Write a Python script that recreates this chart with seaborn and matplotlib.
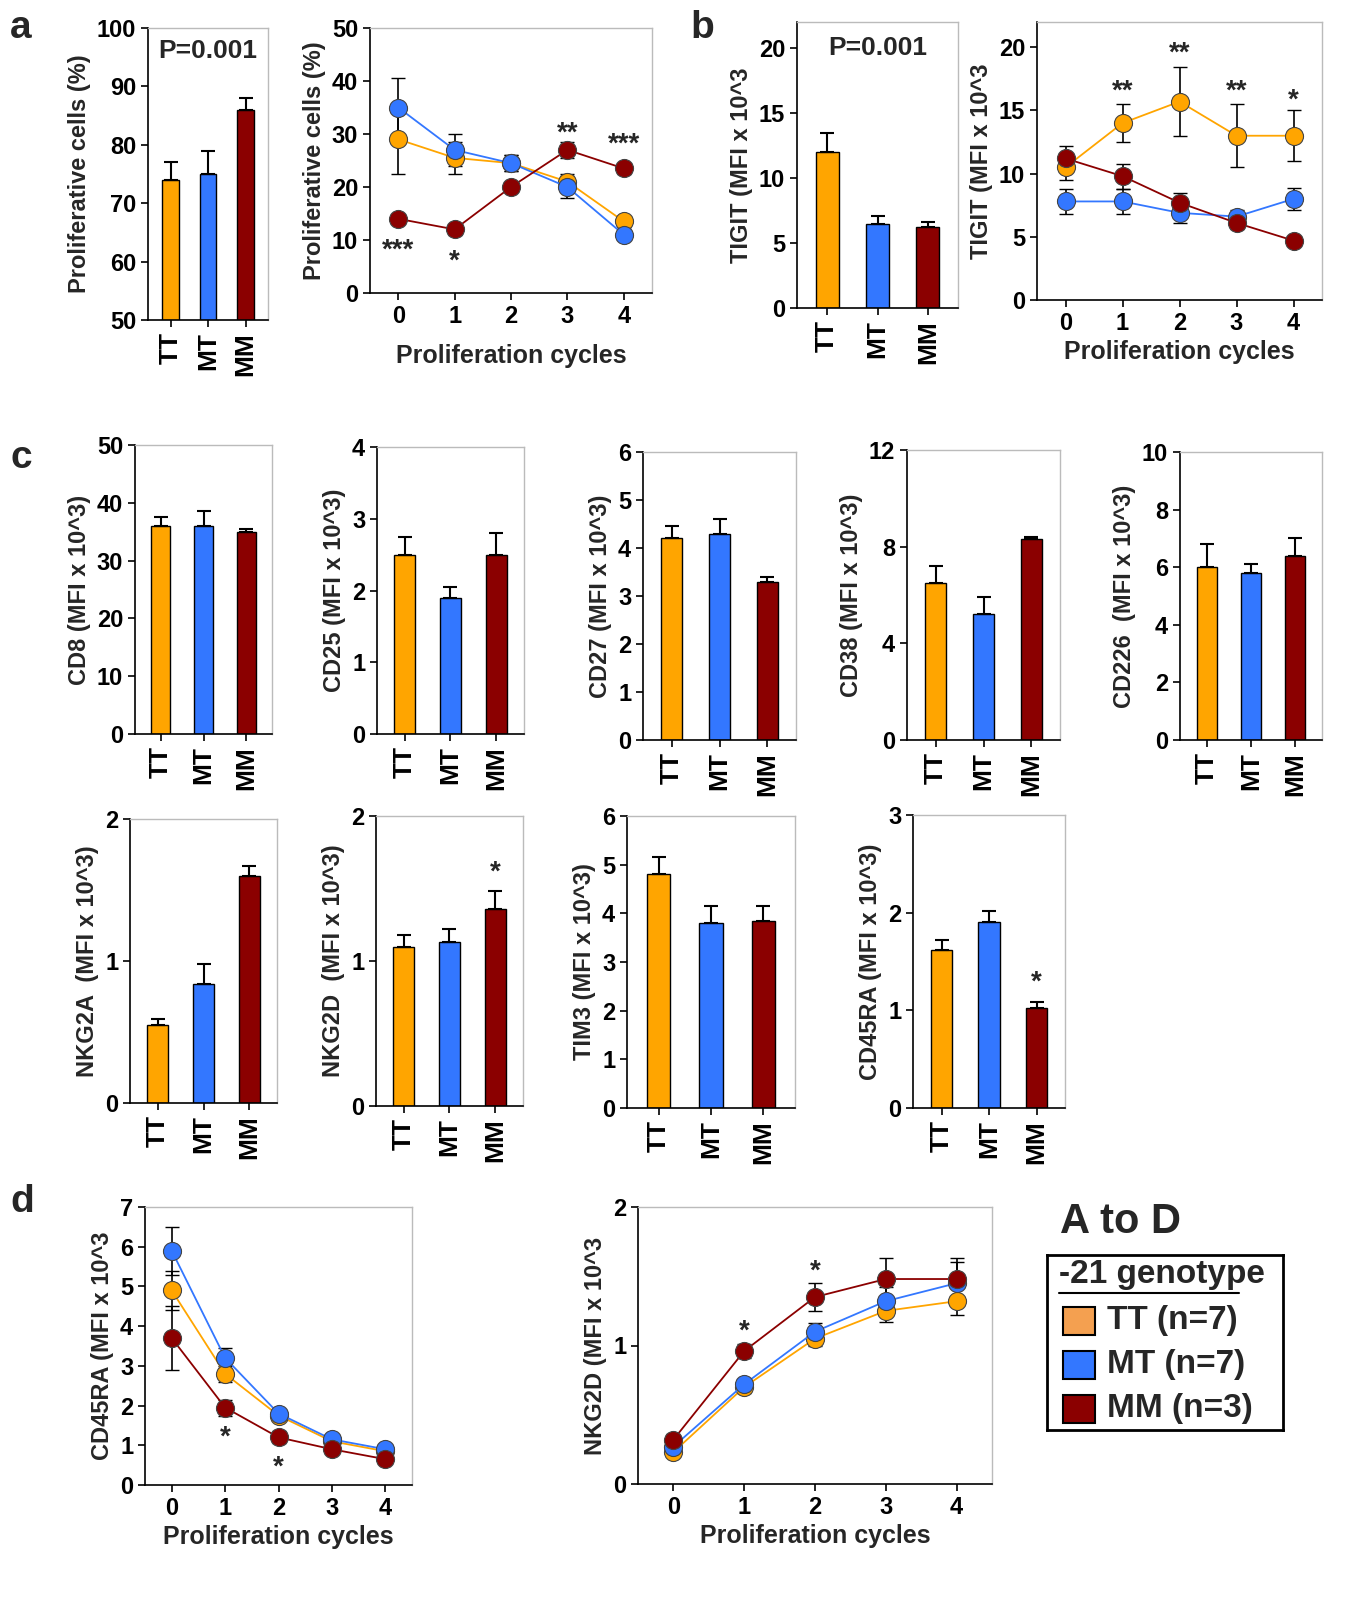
import matplotlib
matplotlib.use("Agg")
import matplotlib.pyplot as plt
import seaborn as sns
import pandas as pd
import numpy as np

sns.set_theme(style="white")
plt.rcParams['font.family'] = ['Liberation Sans', 'DejaVu Sans']
plt.rcParams['font.weight'] = 'bold'

W, H = 1364, 1614
groups = ["TT", "MT", "MM"]
colors = {"TT": "#FFA500", "MT": "#3377FF", "MM": "#8B0000"}
cycles = [0, 1, 2, 3, 4]

# panel a
a_bar = [74, 75, 86]; a_bar_err = [3, 4, 2]
a_line = {"TT": [29, 25.5, 24.5, 21, 13.5], "MT": [35, 27, 24.5, 20, 11], "MM": [14, 12, 20, 27, 23.5]}
a_line_err = {"TT": [6.5, 3, 1.5, 1.5, 1], "MT": [5.5, 3, 1.5, 2, 1], "MM": [1, 1, 1, 1.5, 1]}
# panel b
b_bar = [12, 6.5, 6.2]; b_bar_err = [1.5, 0.6, 0.4]
b_line = {"TT": [10.5, 14, 15.7, 13, 13], "MT": [7.8, 7.8, 6.9, 6.6, 8], "MM": [11.2, 9.8, 7.7, 6.1, 4.7]}
b_line_err = {"TT": [1, 1.5, 2.7, 2.5, 2], "MT": [1, 1, 0.8, 0.5, 0.9], "MM": [1, 1, 0.8, 0.5, 0.4]}
# panel c
c_names = ["CD8", "CD25", "CD27", "CD38", "CD226", "NKG2A", "NKG2D", "TIM3", "CD45RA"]
c_vals = {"CD8": [36, 36, 35], "CD25": [2.5, 1.9, 2.5], "CD27": [4.2, 4.3, 3.3], "CD38": [6.5, 5.2, 8.3],
          "CD226": [6.0, 5.8, 6.4], "NKG2A": [0.55, 0.84, 1.6], "NKG2D": [1.1, 1.13, 1.36],
          "TIM3": [4.8, 3.8, 3.85], "CD45RA": [1.62, 1.9, 1.02]}
c_errs = {"CD8": [1.5, 2.5, 0.5], "CD25": [0.25, 0.15, 0.3], "CD27": [0.25, 0.3, 0.1], "CD38": [0.7, 0.7, 0.1],
          "CD226": [0.8, 0.3, 0.6], "NKG2A": [0.04, 0.14, 0.07], "NKG2D": [0.08, 0.09, 0.12],
          "TIM3": [0.35, 0.35, 0.3], "CD45RA": [0.1, 0.12, 0.07]}
# panel d
d1 = {"TT": [4.9, 2.8, 1.75, 1.1, 0.85], "MT": [5.9, 3.2, 1.8, 1.15, 0.9], "MM": [3.7, 1.95, 1.2, 0.9, 0.65]}
d1_err = {"TT": [0.5, 0.2, 0.1, 0.1, 0.08], "MT": [0.6, 0.25, 0.1, 0.1, 0.08], "MM": [0.8, 0.2, 0.15, 0.1, 0.1]}
d2 = {"TT": [0.23, 0.7, 1.05, 1.25, 1.32], "MT": [0.27, 0.72, 1.1, 1.32, 1.45], "MM": [0.32, 0.96, 1.35, 1.48, 1.48]}
d2_err = {"TT": [0.03, 0.04, 0.05, 0.08, 0.1], "MT": [0.03, 0.04, 0.06, 0.1, 0.15], "MM": [0.04, 0.05, 0.1, 0.15, 0.15]}

fig = plt.figure(figsize=(W/100, H/100), dpi=100)

def ax_at(x0, y0, x1, y1):
    return fig.add_axes([x0/W, 1-y1/H, (x1-x0)/W, (y1-y0)/H])

def style(ax, box=True):
    for s in ["left", "bottom"]:
        ax.spines[s].set_color("black"); ax.spines[s].set_linewidth(1.2)
    for s in ["top", "right"]:
        ax.spines[s].set_visible(box)
        ax.spines[s].set_color("#BBBBBB"); ax.spines[s].set_linewidth(1)
    ax.tick_params(axis="both", direction="out", length=5, width=1.2, labelsize=17, left=True, bottom=True, colors="black")
    for t in ax.get_xticklabels() + ax.get_yticklabels():
        t.set_fontweight("bold")

def bar_panel(ax, vals, errs, ylim, ticks, ylabel, stars=None):
    df = pd.DataFrame({"g": groups, "v": vals})
    sns.barplot(data=df, x="g", y="v", hue="g", palette=colors, ax=ax, width=0.45, saturation=1,
                edgecolor="black", linewidth=1, legend=False)
    ax.errorbar(range(3), vals, yerr=[np.zeros(3), errs], fmt="none", ecolor="black", elinewidth=1.5, capsize=5, capthick=1.5)
    ax.set_ylim(*ylim); ax.set_yticks(ticks); ax.set_xlim(-0.6, 2.6)
    ax.set_ylabel(ylabel, fontsize=17, fontweight="bold"); ax.set_xlabel("")
    style(ax)
    ax.set_xticks(range(3)); ax.set_xticklabels(groups, rotation=90, fontsize=19, fontweight="bold")
    if stars:
        for i, s in stars:
            ax.text(i, vals[i] + errs[i] + (ylim[1]-ylim[0])*0.02, s, ha="center", va="bottom", fontsize=20, fontweight="bold")

def line_panel(ax, data, err, ylim, ticks, ylabel, stars=()):
    rows = [(g, c, v) for g in groups for c, v in zip(cycles, data[g])]
    df = pd.DataFrame(rows, columns=["g", "c", "v"])
    for g in groups:
        ax.errorbar(cycles, data[g], yerr=err[g], fmt="none", ecolor="black", elinewidth=1.2, capsize=5, zorder=1)
    sns.lineplot(data=df, x="c", y="v", hue="g", palette=colors, marker="o", markersize=13,
                 markeredgecolor="#444444", markeredgewidth=0.8, linewidth=1.3, ax=ax, legend=False, zorder=3)
    ax.set_ylim(*ylim); ax.set_yticks(ticks); ax.set_xlim(-0.5, 4.5); ax.set_xticks(cycles)
    ax.set_ylabel(ylabel, fontsize=17, fontweight="bold")
    ax.set_xlabel("Proliferation cycles", fontsize=18, fontweight="bold")
    style(ax)
    for x, y, s in stars:
        ax.text(x, y, s, ha="center", va="center", fontsize=20, fontweight="bold")

# a
ax = ax_at(148, 28, 268, 320)
bar_panel(ax, a_bar, a_bar_err, (50, 100), range(50, 101, 10), "Proliferative cells (%)")
ax.text(1, 96, "P=0.001", ha="center", va="center", fontsize=19, fontweight="bold")
ax = ax_at(370, 28, 652, 293)
line_panel(ax, a_line, a_line_err, (0, 50), range(0, 51, 10), "Proliferative cells (%)",
           [(0, 8, "***"), (1, 6, "*"), (3, 30, "**"), (4, 28, "***")])
ax.xaxis.labelpad = 12
# b
ax = ax_at(797, 22, 958, 308)
bar_panel(ax, b_bar, b_bar_err, (0, 22), range(0, 21, 5), "TIGIT (MFI x 10^3")
ax.text(1, 20, "P=0.001", ha="center", va="center", fontsize=19, fontweight="bold")
ax = ax_at(1037, 22, 1322, 300)
line_panel(ax, b_line, b_line_err, (0, 22), range(0, 21, 5), "TIGIT (MFI x 10^3",
           [(1, 16.5, "**"), (2, 19.5, "**"), (3, 16.5, "**"), (4, 15.8, "*")])

# c
c_pos = {"CD8": (135, 445, 272, 734), "CD25": (377, 447, 524, 734), "CD27": (643, 452, 796, 740),
         "CD38": (907, 450, 1060, 740), "CD226": (1180, 452, 1322, 740),
         "NKG2A": (130, 819, 277, 1103), "NKG2D": (376, 816, 523, 1106), "TIM3": (627, 816, 795, 1108),
         "CD45RA": (913, 815, 1065, 1108)}
c_lim = {"CD8": (50, 10), "CD25": (4, 1), "CD27": (6, 1), "CD38": (12, 4), "CD226": (10, 2),
         "NKG2A": (2, 1), "NKG2D": (2, 1), "TIM3": (6, 1), "CD45RA": (3, 1)}
c_stars = {"NKG2D": [(2, "*")], "CD45RA": [(2, "*")]}
for n in c_names:
    ax = ax_at(*c_pos[n])
    top, step = c_lim[n]
    label = n + ("  (MFI x 10^3)" if n in ("CD226", "NKG2A", "NKG2D") else " (MFI x 10^3)")
    bar_panel(ax, c_vals[n], c_errs[n], (0, top), np.arange(0, top + step/2, step), label, c_stars.get(n))
    ax.set_yticklabels([f"{t:g}" for t in np.arange(0, top + step/2, step)], fontsize=17, fontweight="bold")

# d
ax = ax_at(145, 1207, 412, 1485)
line_panel(ax, d1, d1_err, (0, 7), range(0, 8), "CD45RA (MFI x 10^3",
           [(1, 1.2, "*"), (2, 0.45, "*")])
ax = ax_at(638, 1207, 992, 1484)
line_panel(ax, d2, d2_err, (0, 2), range(0, 3), "NKG2D (MFI x 10^3",
           [(1, 1.1, "*"), (2, 1.53, "*")])

# legend
fig.text(1060/W, 1-1222/H, "A to D", fontsize=30, fontweight="bold", va="center")
lax = ax_at(1047, 1255, 1283, 1430)
lax.set_xlim(0, 236); lax.set_ylim(175, 0); lax.set_xticks([]); lax.set_yticks([])
for s in lax.spines.values():
    s.set_color("black"); s.set_linewidth(2)
lax.text(12, 20, "-21 genotype", fontsize=24, fontweight="bold", va="center")
lax.plot([12, 192], [38, 38], color="black", lw=1.5)
for i, (g, lab) in enumerate(zip(groups, ["TT (n=7)", "MT (n=7)", "MM (n=3)"])):
    y = 66 + i * 44
    lax.add_patch(plt.Rectangle((16, y - 14), 32, 28, facecolor=colors[g] if g != "TT" else "#F4A050",
                                edgecolor="black", lw=1.5))
    lax.text(60, y, lab, fontsize=24, fontweight="bold", va="center")

for x, y, t in [(10, 28, "a"), (690, 28, "b"), (10, 458, "c"), (10, 1202, "d")]:
    fig.text(x/W, 1-y/H, t, fontsize=28, fontweight="bold", va="center")

fig.savefig("out.png", dpi=100)
